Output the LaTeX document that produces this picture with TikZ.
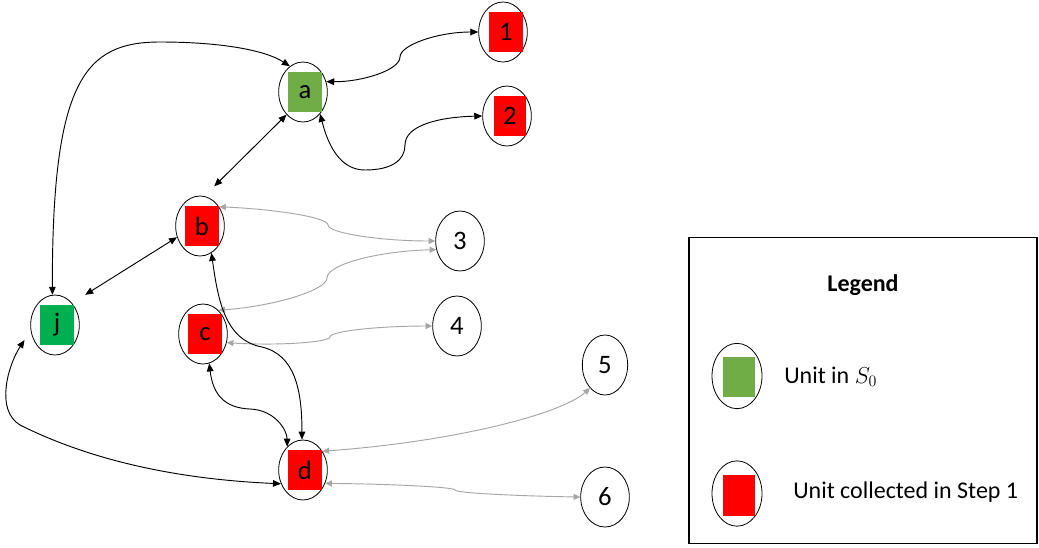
\documentclass[tikz,border=0pt]{standalone}
\usepackage{fontspec}
\setmainfont{Carlito}
\usepackage{tikz}
\usetikzlibrary{arrows.meta,shapes.geometric}
\definecolor{redc}{HTML}{FF0000}
\definecolor{leafc}{HTML}{70AD47}
\definecolor{grassc}{HTML}{00B050}
\definecolor{faintc}{HTML}{A6A6A6}
\tikzset{
  unit/.style={draw,ellipse,line width=0.6pt,minimum width=36.5pt,minimum height=45pt,inner sep=0pt},
  patch/.style={fill=#1,minimum width=25.5pt,minimum height=30pt,inner sep=0pt,font=\fontsize{20}{22}\selectfont},
  link/.style={{Triangle[length=6pt,width=5pt]}-{Triangle[length=6pt,width=5pt]},line width=0.7pt},
  faint/.style={{Triangle[length=5pt,width=4.5pt]}-{Triangle[length=5pt,width=4.5pt]},faintc,line width=0.7pt},
  keytext/.style={anchor=west,inner sep=0pt,font=\fontsize{18}{21}\selectfont}
}
\begin{document}
\begin{tikzpicture}[x=0.75pt,y=-0.75pt]
\useasboundingbox[fill=white] (0,0) rectangle (1039,547);
% units
\node[unit] (a) at (303,92) {};
\node[unit] (n1) at (503,32) {};
\node[unit] (n2) at (507,116) {};
\node[unit] (b) at (200,226) {};
\node[unit] (n3) at (460,241) {};
\node[unit] (j) at (55,325) {};
\node[unit] (c) at (203,334) {};
\node[unit] (n4) at (457,326) {};
\node[unit,minimum width=34pt] (n5) at (605,365) {};
\node[unit] (d) at (303,470) {};
\node[unit] (n6) at (605,497) {};
\node[patch=leafc] (a-sq) at ([shift={(2,0)}]a) {a};
\node[patch=redc] (n1-sq) at ([shift={(3,0)}]n1) {1};
\node[patch=redc,minimum width=23.5pt] (n2-sq) at ([shift={(3,0)}]n2) {2};
\node[patch=redc] (b-sq) at ([shift={(2,0)}]b) {b};
\node[patch=grassc] (j-sq) at ([shift={(2,0)}]j) {j};
\node[patch=redc] (c-sq) at ([shift={(2,0)}]c) {c};
\node[patch=redc] (d-sq) at ([shift={(2,0)}]d) {d};
\node[font=\fontsize{20}{22}\selectfont] (n3-txt) at (n3) {3};
\node[font=\fontsize{20}{22}\selectfont] (n4-txt) at (n4) {4};
\node[font=\fontsize{20}{22}\selectfont] (n5-txt) at (n5) {5};
\node[font=\fontsize{20}{22}\selectfont] (n6-txt) at (n6) {6};
% gray links
\draw[faint] (b.45) .. controls (272,209) and (328,217) .. (328,225) .. controls (328,233) and (380,241) .. (n3.west);
\draw[faint] (c.57) .. controls (275,306) and (327,290) .. (327,278) .. controls (327,264) and (380,251) .. (n3.-160);
\draw[faint] (c.-20) .. controls (280,346) and (330,342) .. (330,337) .. controls (330,331) and (380,326) .. (n4.west);
\draw[faint] (d.44) .. controls (450,442) and (560,415) .. (n5.-123);
\draw[faint] (d.-31) .. controls (390,484) and (455,487) .. (455,490) .. controls (455,493) and (518,496) .. (n6.west);
% black links
\draw[link] (a.24) .. controls (362,82) and (400,70) .. (400,57) .. controls (400,45) and (438,32) .. (n1.west);
\draw[link] (a.-52) .. controls (328,145) and (340,170) .. (365,170) .. controls (392,170) and (405,160) .. (405,145) .. controls (405,125) and (440,117) .. (n2.west);
\draw[link] (j.95) .. controls (52,80) and (85,42) .. (160,42) .. controls (220,42) and (265,50) .. (a.117);
\draw[link] (a.-126) -- ([shift={(9,-10)}]b.80);
\draw[link] (b.206) -- ([shift={(11,-11)}]j.45);
\draw[link] (b.-67) .. controls (218,300) and (225,340) .. (262,347) .. controls (295,355) and (302,390) .. (d.92);
\draw[link] (c.-78) .. controls (213,395) and (225,408) .. (250,409) .. controls (275,410) and (287,430) .. (d.124);
\draw[link] ([shift={(-9,0)}]j.215) .. controls (8,365) and (-5,410) .. (20,425) .. controls (70,450) and (150,478) .. (d.212);
% legend
\node[draw,line width=0.8pt,minimum width=261pt,minimum height=230pt,inner sep=0pt] (legend) at (863,390.5) {};
\node[font=\bfseries\fontsize{18}{21}\selectfont] (legend-title) at (863,285) {Legend};
\node[unit,minimum width=37.5pt,minimum height=49pt] (key0) at (737,376) {};
\node[patch=leafc,minimum width=24pt,minimum height=30pt] (key0-sq) at ([shift={(2,1)}]key0) {};
\node[keytext] (key0-txt) at (784,377) {Unit in $S_0$};
\node[unit,minimum width=37.5pt,minimum height=49pt] (key1) at (737,493.5) {};
\node[patch=redc,minimum width=24pt,minimum height=30.75pt] (key1-sq) at ([shift={(2,2)}]key1) {};
\node[keytext] (key1-txt) at (793,492) {Unit collected in Step 1};
\end{tikzpicture}
\end{document}
